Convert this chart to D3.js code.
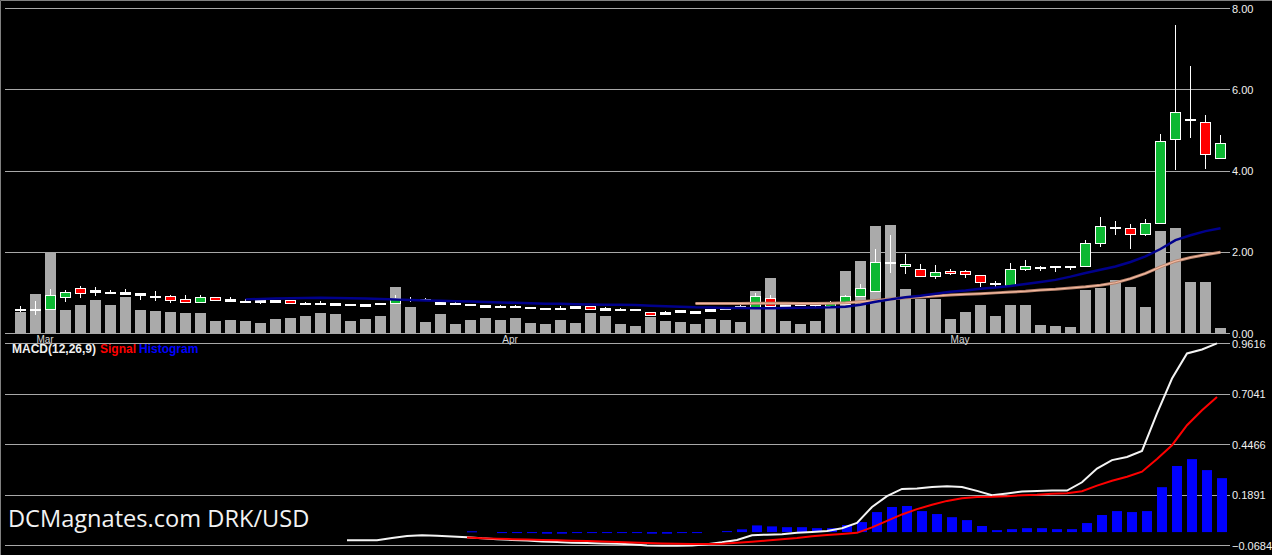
<!DOCTYPE html>
<html>
<head>
<meta charset="utf-8">
<script src="https://cdn.jsdelivr.net/npm/d3@7"></script>
<style>
  body { margin: 0; background: #000; }
  svg { display: block; }
</style>
</head>
<body>
<svg id="chart" width="1272" height="555"></svg>
<script>
// daily bars, 27 Feb - 18 May 2014
const firstDay = new Date(2014, 1, 27), lastDay = new Date(2014, 4, 19)

const open = [0.60,0.60,0.60,0.91,1.12,1.07,1.03,1.02,1.00,0.93,
  0.93,0.86,0.78,0.90,0.85,0.81,0.82,0.82,0.83,0.76,
  0.76,0.75,0.73,0.72,0.76,0.76,0.86,0.85,0.77,0.76,
  0.73,0.69,0.68,0.68,0.65,0.63,0.62,0.67,0.68,0.63,
  0.61,0.61,0.53,0.52,0.57,0.55,0.60,0.64,0.68,0.65,
  0.87,0.72,0.73,0.73,0.68,0.72,0.93,1.05,1.75,1.65,
  1.60,1.42,1.54,1.54,1.43,1.25,1.19,1.58,1.63,1.65,
  1.65,1.65,2.22,2.61,2.59,2.44,2.71,4.78,5.27,5.20,
  4.33]
const high = [0.67,0.81,1.09,1.07,1.17,1.14,1.07,1.09,1.00,1.05,
  0.95,0.95,0.95,0.90,0.90,0.85,0.83,0.83,0.83,0.78,
  0.80,0.76,0.73,0.73,0.76,0.95,0.90,0.87,0.80,0.77,
  0.73,0.70,0.69,0.71,0.65,0.63,0.68,0.68,0.68,0.66,
  0.63,0.61,0.53,0.56,0.58,0.55,0.61,0.64,0.69,1.00,
  0.95,0.73,0.73,0.76,0.80,0.95,1.22,2.07,2.42,1.95,
  1.70,1.68,1.58,1.56,1.43,1.30,1.73,1.80,1.67,1.65,
  1.67,2.30,2.87,2.78,2.69,2.82,4.92,7.59,6.58,5.38,
  4.88]
const low = [0.54,0.46,0.60,0.78,0.88,0.93,0.99,0.95,0.83,0.80,
  0.75,0.76,0.76,0.83,0.78,0.78,0.73,0.76,0.76,0.74,
  0.72,0.71,0.69,0.68,0.69,0.76,0.78,0.80,0.71,0.70,
  0.67,0.64,0.65,0.66,0.60,0.58,0.61,0.63,0.60,0.55,
  0.56,0.56,0.46,0.48,0.53,0.51,0.54,0.62,0.65,0.65,
  0.66,0.68,0.68,0.66,0.66,0.72,0.93,1.03,1.50,1.46,
  1.41,1.33,1.43,1.37,1.14,1.15,1.19,1.55,1.55,1.51,
  1.56,1.65,2.13,2.42,2.09,2.41,2.71,4.02,4.82,4.05,
  4.33]
const close = [0.60,0.57,0.96,1.02,1.00,1.03,1.03,0.98,0.96,0.93,
  0.83,0.78,0.90,0.83,0.81,0.78,0.78,0.78,0.76,0.74,
  0.74,0.71,0.71,0.68,0.74,0.88,0.82,0.82,0.73,0.72,
  0.70,0.65,0.66,0.66,0.63,0.61,0.64,0.63,0.60,0.59,
  0.59,0.59,0.46,0.48,0.53,0.51,0.56,0.63,0.66,0.92,
  0.68,0.68,0.70,0.69,0.77,0.92,1.11,1.75,1.75,1.70,
  1.41,1.51,1.48,1.46,1.28,1.21,1.58,1.65,1.62,1.63,
  1.63,2.22,2.64,2.61,2.44,2.71,4.75,5.44,5.27,4.41,
  4.70]
// relative volume
const volume = [21,39,80,23,28,33,28,36,23,22,
  21,20,20,12,13,12,10,14,15,17,
  20,19,12,14,17,46,26,11,19,9,
  13,15,13,15,10,9,13,10,20,17,
  9,7,16,12,11,9,14,13,11,42,
  55,12,9,12,28,62,72,107,108,44,
  34,34,14,21,28,17,28,28,8,7,
  6,43,45,53,46,26,102,105,51,51,
  5]
const maFast = [null,null,null,null,null,null,null,null,null,null,
  null,null,null,null,null,0.84,0.85,0.86,0.87,0.875,
  0.88,0.875,0.87,0.86,0.85,0.835,0.825,0.815,0.805,0.795,
  0.785,0.775,0.765,0.755,0.745,0.735,0.73,0.72,0.715,0.71,
  0.705,0.70,0.685,0.67,0.66,0.645,0.64,0.63,0.625,0.62,
  0.62,0.625,0.635,0.64,0.645,0.66,0.71,0.78,0.84,0.89,
  0.93,0.98,1.03,1.06,1.10,1.13,1.17,1.22,1.27,1.32,
  1.40,1.49,1.57,1.65,1.76,1.90,2.08,2.30,2.42,2.52,
  2.59]
const maSlow = [null,null,null,null,null,null,null,null,null,null,
  null,null,null,null,null,null,null,null,null,null,
  null,null,null,null,null,null,null,null,null,null,
  null,null,null,null,null,null,null,null,null,null,
  null,null,null,null,null,0.74,0.74,0.74,0.74,0.745,
  0.745,0.745,0.74,0.74,0.745,0.755,0.78,0.81,0.85,0.88,
  0.90,0.925,0.95,0.965,0.98,1.00,1.02,1.04,1.07,1.09,
  1.12,1.15,1.19,1.25,1.35,1.48,1.64,1.78,1.87,1.94,
  2.00]
const macd = [null,null,null,null,null,null,null,null,null,null,
  null,null,null,null,null,null,null,null,null,null,
  null,null,-0.042,-0.042,-0.041,-0.030,-0.020,-0.016,-0.019,-0.023,
  -0.026,-0.032,-0.036,-0.040,-0.043,-0.048,-0.051,-0.054,-0.056,-0.058,
  -0.060,-0.062,-0.068,-0.070,-0.070,-0.069,-0.062,-0.052,-0.040,-0.016,
  -0.013,-0.011,-0.004,0.000,0.005,0.020,0.047,0.128,0.183,0.220,
  0.222,0.230,0.234,0.230,0.210,0.188,0.197,0.207,0.210,0.212,
  0.212,0.254,0.324,0.367,0.383,0.414,0.605,0.783,0.911,0.931,
  0.962]
const signal = [null,null,null,null,null,null,null,null,null,null,
  null,null,null,null,null,null,null,null,null,null,
  null,null,null,null,null,null,null,null,null,null,
  -0.028,-0.031,-0.034,-0.036,-0.038,-0.040,-0.042,-0.044,-0.046,-0.048,
  -0.050,-0.053,-0.056,-0.058,-0.060,-0.061,-0.061,-0.059,-0.054,-0.049,
  -0.043,-0.037,-0.030,-0.021,-0.015,-0.010,-0.004,0.024,0.057,0.090,
  0.117,0.139,0.159,0.173,0.179,0.180,0.183,0.188,0.191,0.196,
  0.198,0.208,0.237,0.262,0.282,0.308,0.373,0.443,0.545,0.621,
  0.689]
const histogram = [null,null,null,null,null,null,null,null,null,null,
  null,null,null,null,null,null,null,null,null,null,
  null,null,null,null,null,null,null,null,null,null,
  0.004,0,-0.002,-0.002,-0.002,-0.008,-0.008,-0.003,-0.003,-0.003,
  -0.003,-0.003,-0.008,-0.008,-0.003,-0.003,0,0.005,0.014,0.034,
  0.029,0.025,0.025,0.020,0.020,0.036,0.051,0.102,0.128,0.133,
  0.107,0.092,0.076,0.061,0.031,0.010,0.015,0.020,0.020,0.015,
  0.015,0.046,0.087,0.107,0.102,0.107,0.229,0.337,0.372,0.316,
  0.275]

const priceTicks = [0, 2, 4, 6, 8]
const macdTicks = [-0.0684, 0.1891, 0.4466, 0.7041, 0.9616]
const monthLabels = ["Mar", "Apr", "May"]
const monthStarts = ["2014-03-01", "2014-04-01", "2014-05-01"]

const fmtDay = d3.timeFormat("%Y-%m-%d")
const days = d3.timeDay.range(firstDay, lastDay).map(fmtDay)
const idx = d3.range(days.length)

const svg = d3.select("#chart")
const gridLeft = 5, gridRight = 1230
const grey = "#a8a8a8"

const x = d3.scaleBand().domain(days).range([15, 1226]).paddingInner(4 / 15).paddingOuter(0)
const yPrice = d3.scaleLinear().domain([0, 8]).range([333.5, 8.5])
const yVol = d3.scaleLinear().domain([0, 325]).range([333, 8])
const yMacd = d3.scaleLinear().domain([-0.0684, 0.9616]).range([545.5, 343.5])

svg.append("rect").attr("width", 1272).attr("height", 555).attr("fill", "#000")

// grid lines
const grid = svg.append("g").attr("stroke", grey).attr("stroke-width", 1)
priceTicks.forEach(v => {
  const y = Math.floor(yPrice(v)) + 0.5
  grid.append("line").attr("x1", gridLeft).attr("x2", gridRight).attr("y1", y).attr("y2", y)
})
macdTicks.forEach(v => {
  const y = Math.floor(yMacd(v)) + 0.5
  grid.append("line").attr("x1", gridLeft).attr("x2", gridRight).attr("y1", y).attr("y2", y)
})

// frame
svg.append("path").attr("d", "M0.5,555V0.5H1272").attr("fill", "none").attr("stroke", "#808080")

// volume
svg.append("g").selectAll("rect")
  .data(volume)
  .join("rect")
  .attr("x", (d, i) => x(days[i]))
  .attr("width", x.bandwidth())
  .attr("y", d => yVol(d))
  .attr("height", d => yVol(0) - yVol(d))
  .attr("fill", "#aaaaaa")

// candles
const candles = svg.append("g").selectAll("g")
  .data(days)
  .join("g")

candles.append("line")
  .attr("x1", d => x(d) + 5.5)
  .attr("x2", d => x(d) + 5.5)
  .attr("y1", (d, i) => Math.round(yPrice(high[i])))
  .attr("y2", (d, i) => Math.round(yPrice(low[i])))
  .attr("stroke", "#fff")

candles.append("rect")
  .attr("x", d => x(d) + 0.5)
  .attr("width", x.bandwidth() - 1)
  .attr("y", (d, i) => Math.round(yPrice(Math.max(open[i], close[i]))) + 0.5)
  .attr("height", (d, i) => Math.max(1, Math.round(yPrice(Math.min(open[i], close[i]))) - Math.round(yPrice(Math.max(open[i], close[i])))))
  .attr("fill", (d, i) => {
    const h = Math.abs(yPrice(open[i]) - yPrice(close[i]))
    if (h < 2) return "#fff"
    return close[i] > open[i] ? "#0cb832" : "#ff0000"
  })
  .attr("stroke", "#fff")

// moving averages
const maLine = arr => d3.line()
  .defined(i => arr[i] != null)
  .x(i => x(days[i]) + 5.5)
  .y(i => yPrice(arr[i]))

svg.append("path").attr("d", maLine(maSlow)(idx))
  .attr("fill", "none").attr("stroke", "#b5806a").attr("stroke-width", 3)
svg.append("path").attr("d", maLine(maSlow)(idx))
  .attr("fill", "none").attr("stroke", "#f2b9a0").attr("stroke-width", 1.2)
svg.append("path").attr("d", maLine(maFast)(idx))
  .attr("fill", "none").attr("stroke", "#00008c").attr("stroke-width", 2.5)

// month labels
svg.append("g").selectAll("text")
  .data(monthLabels)
  .join("text")
  .attr("x", (d, i) => x(monthStarts[i]))
  .attr("y", 343)
  .attr("text-anchor", "middle")
  .attr("font-family", "Liberation Sans, Arial, sans-serif")
  .attr("font-size", 10)
  .attr("fill", "#d8d8d8")
  .text(d => d)

// MACD histogram
svg.append("g").selectAll("rect")
  .data(idx.filter(i => histogram[i] != null && histogram[i] !== 0))
  .join("rect")
  .attr("x", i => x(days[i]) + 2)
  .attr("width", x.bandwidth() - 1)
  .attr("y", i => Math.min(yMacd(0), yMacd(histogram[i])))
  .attr("height", i => Math.max(1, Math.abs(yMacd(histogram[i]) - yMacd(0))))
  .attr("fill", "#0000ff")

const macdLine = arr => d3.line()
  .defined(i => arr[i] != null)
  .x(i => x(days[i]) + 2)
  .y(i => yMacd(arr[i]))

svg.append("path").attr("d", macdLine(macd)(idx))
  .attr("fill", "none").attr("stroke", "#f4f4f4").attr("stroke-width", 2)
svg.append("path").attr("d", macdLine(signal)(idx))
  .attr("fill", "none").attr("stroke", "#ff0000").attr("stroke-width", 2)

// right axes
const styleAxis = g => {
  g.select(".domain").remove()
  g.selectAll("text")
    .attr("font-family", "Liberation Sans, Arial, sans-serif")
    .attr("font-size", 11)
    .attr("fill", "#f0f0f0")
}
svg.append("g")
  .attr("transform", `translate(${gridRight},0)`)
  .call(d3.axisRight(yPrice).tickValues(priceTicks).tickFormat(d3.format(".2f")).tickSize(0).tickPadding(2))
  .call(styleAxis)
svg.append("g")
  .attr("transform", `translate(${gridRight},0)`)
  .call(d3.axisRight(yMacd).tickValues(macdTicks).tickFormat(d3.format(".4f")).tickSize(0).tickPadding(2))
  .call(styleAxis)

// MACD legend
const legend = svg.append("g")
  .attr("font-family", "Liberation Sans, Arial, sans-serif")
  .attr("font-size", 12)
  .attr("font-weight", "bold")
legend.append("text").attr("x", 12).attr("y", 353).attr("fill", "#f0f0f0").text("MACD(12,26,9)")
legend.append("text").attr("x", 100).attr("y", 353).attr("fill", "#ff0000").text("Signal")
legend.append("text").attr("x", 139).attr("y", 353).attr("fill", "#0000ff").text("Histogram")

// watermark
svg.append("text")
  .attr("x", 8).attr("y", 527)
  .attr("font-family", "Open Sans, Noto Sans, sans-serif")
  .attr("font-size", 23.6)
  .attr("fill", "#f2f2f2")
  .text("DCMagnates.com DRK/USD")
</script>
</body>
</html>
